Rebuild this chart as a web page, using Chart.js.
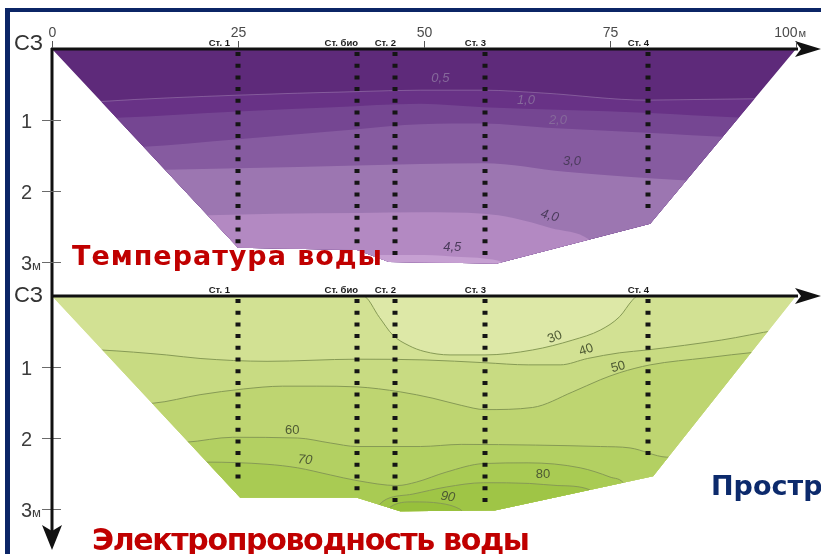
<!DOCTYPE html>
<html lang="ru">
<head>
<meta charset="utf-8">
<title>Температура и электропроводность воды</title>
<script src="https://cdn.jsdelivr.net/npm/chart.js@4.4.1/dist/chart.umd.min.js"></script>
<style>
  html, body { margin: 0; padding: 0; background: #fff; }
  body { position: relative; width: 821px; height: 554px; overflow: hidden; }
  canvas { position: absolute; left: 0; top: 0; }
  #condCanvas { z-index: 1; }
  #tempCanvas { z-index: 2; }
  .bar { position: absolute; background: #0b2566; z-index: 3; }
  .caption { position: absolute; z-index: 4; font-family: "DejaVu Sans", sans-serif; font-weight: bold; white-space: nowrap; line-height: 1; }
  #tempCaption { left: 72px; top: 242px; font-size: 27px; color: #c00000; }
  #condCaption { left: 92px; top: 525px; font-size: 30px; color: #c00000; }
  #sideCaption { left: 711px; top: 472px; font-size: 27px; color: #0c2a6c; }
</style>
</head>
<body>
<div class="bar" style="left:5px;top:8px;width:816px;height:4px"></div>
<div class="bar" style="left:5px;top:8px;width:5px;height:546px"></div>
<canvas id="condCanvas" width="821" height="554"></canvas>
<canvas id="tempCanvas" width="821" height="554"></canvas>
<div class="caption" id="tempCaption" data-w="310">Температура воды</div>
<div class="caption" id="condCaption" data-w="438">Электропроводность воды</div>
<div class="caption" id="sideCaption">Пространственное распределение</div>
<script>
// ---- Section geometry: distance along the transect (m), depth (m) ----
const distTicks = [0, 25, 50, 75, 100];
const depthTicks = [1, 2, 3];

const stationNames = ['Ст. 1', 'Ст. био', 'Ст. 2', 'Ст. 3', 'Ст. 4'];
const stationDist = [25, 41, 46.1, 58.2, 80.1];
const stationDepthTemp = [2.8, 2.8, 2.94, 2.96, 2.33];
const stationDepthCond = [2.63, 2.8, 2.94, 2.97, 2.35];

// Bottom profile [distance, depth]
const bedTemp = [[0, 0], [25, 2.8], [41, 2.83], [45.3, 3.0], [59.8, 3.02], [80.4, 2.46], [100, 0]];
const bedCond = [[0, 0], [25.3, 2.84], [41, 2.84], [46.8, 3.03], [59.5, 3.02], [80.8, 2.54], [100, 0]];

// ---- Water temperature, °C: isotherm depths [distance, depth] ----
const tempLevels = [0.5, 1.0, 2.0, 3.0, 4.0, 4.5];
const tIso05 = [[0, 0.8], [6.5, 0.74], [25, 0.65], [41, 0.6], [49.5, 0.58], [58, 0.58], [66, 0.62], [80, 0.72], [95, 0.7], [100, 0.7]];
const tIso10 = [[0, 1.0], [8.7, 0.97], [25, 0.88], [37.8, 0.82], [49.5, 0.77], [58, 0.82], [69, 0.86], [80.4, 0.9], [91.5, 0.96], [100, 0.98]];
const tIso20 = [[0, 1.42], [11.8, 1.38], [25, 1.27], [41, 1.13], [49.5, 1.06], [58, 1.05], [66.5, 1.11], [80, 1.18], [90.7, 1.24], [100, 1.26]];
const tIso30 = [[0, 1.75], [15.4, 1.7], [25, 1.68], [41, 1.64], [49.5, 1.62], [58, 1.61], [69, 1.73], [84.8, 1.85], [100, 1.9]];
const tIso40 = [[0, 2.38], [21, 2.34], [30, 2.32], [41, 2.31], [49.5, 2.3], [58, 2.32], [62, 2.38], [67, 2.52], [72.3, 2.69], [74, 2.9], [75.5, 3.1], [100, 3.1]];
const tIso45 = [[0, 3.1], [42.5, 3.1], [43.5, 2.9], [50, 2.9], [55, 2.93], [58, 2.95], [60.5, 3.0], [62, 3.1], [100, 3.1]];

// ---- Electrical conductivity, µS/cm: isoline depths [distance, depth] ----
const condLevels = [30, 40, 50, 60, 70, 80, 90];
const cIso30 = [[0, 0], [41.8, 0], [44, 0.3], [45.8, 0.55], [48, 0.7], [50, 0.78], [53.5, 0.83], [58.2, 0.83], [64.6, 0.76], [70, 0.62], [73.7, 0.48], [76.3, 0.29], [78, 0.06], [78.7, 0], [100, 0]];
const cIso40 = [[0, 0.74], [6.5, 0.76], [15.4, 0.83], [19.9, 0.88], [28.9, 0.92], [41, 0.89], [50, 0.9], [58.2, 0.94], [64, 0.97], [68.3, 0.97], [72, 0.88], [76.3, 0.8], [80, 0.76], [90, 0.62], [97.5, 0.48], [100, 0.45]];
const cIso50 = [[0, 1.55], [13.6, 1.51], [19.9, 1.39], [25.7, 1.31], [31, 1.27], [35.6, 1.27], [41, 1.28], [46.8, 1.35], [51.2, 1.44], [55, 1.54], [58.2, 1.6], [64.6, 1.57], [70, 1.35], [73.7, 1.18], [76.3, 1.08], [80.4, 0.97], [88, 0.87], [94.7, 0.79], [100, 0.75]];
const cIso60 = [[0, 2.1], [18, 2.06], [24.3, 1.99], [33, 2.0], [37.4, 2.07], [41, 2.12], [49.5, 2.12], [55, 2.09], [65, 2.1], [73.7, 2.12], [77.7, 2.14], [82.6, 2.27], [100, 2.3]];
const cIso70 = [[0, 2.35], [20.8, 2.34], [28.9, 2.37], [33, 2.42], [37.4, 2.52], [41, 2.6], [46.4, 2.67], [49, 2.62], [53, 2.48], [58, 2.36], [64, 2.35], [71, 2.42], [75, 2.55], [77, 2.66], [78.5, 3.1], [100, 3.1]];
const cIso80 = [[0, 3.1], [43, 3.1], [44, 2.94], [45, 2.86], [48.5, 2.79], [53, 2.69], [58, 2.63], [64.2, 2.64], [68, 2.67], [72.3, 2.73], [74, 3.1], [100, 3.1]];
const cIso90 = [[0, 3.1], [44.5, 3.1], [45.5, 2.97], [48.5, 2.9], [52.2, 2.92], [54.8, 3.0], [56, 3.1], [100, 3.1]];

// Where each isoline value is written [distance, depth] and its tilt (deg)
const tempLabelAt = [[52.2, 0.42], [63.7, 0.72], [68, 1.01], [69.9, 1.59], [66.9, 2.35], [53.8, 2.8]];
const tempLabelAngle = [0, 0, 0, 0, 15, 0];
const condLabelAt = [[67.6, 0.58], [71.8, 0.76], [76.1, 1.0], [32.3, 1.89], [34.0, 2.31], [66.0, 2.52], [53.2, 2.83]];
const condLabelAngle = [-22, -18, -15, 0, 5, 0, 8];

// Fill colours, from the surface layer downwards
const tempBands = ['#5e2a7a', '#683286', '#754692', '#865ba0', '#9c76b1', '#b389c2', '#c6a0d2'];
const condBands = ['#dde8a7', '#d2e193', '#c8db82', '#bed571', '#b3d062', '#a9cb53', '#9fc546', '#97c03c'];
const stationNameShift = [-8, 1, 1, 1, 1];

const PLOT_DEPTH = 3.1;   // lowest depth in each panel, m
const PX_PER_M = 71;      // vertical scale
const FONT = '"Liberation Sans", Arial, sans-serif';

const toXY = pts => pts.map(([x, y]) => ({x, y}));

// Each isoline is filled down to the plot bottom; deeper layers are painted on top.
function bandDatasets(lines, colors, strokeFor) {
  const all = [[[0, 0], [100, 0]], ...lines];
  return all.map((pts, i) => ({
    data: toXY(pts),
    backgroundColor: colors[i],
    borderColor: strokeFor(i),
    borderWidth: i === 0 ? 0 : 1,
    fill: {value: PLOT_DEPTH},
    order: all.length - i,
    pointRadius: 0,
    cubicInterpolationMode: 'monotone',
    clip: false
  }));
}

// Restricts the layered fills to the water body above the bed profile.
function bedClip(profile) {
  return {
    id: 'bedClip',
    beforeDatasetsDraw(chart) {
      const {ctx, scales: {x, y}} = chart;
      ctx.save();
      ctx.beginPath();
      profile.forEach(([m, d], i) => {
        const px = x.getPixelForValue(m), py = y.getPixelForValue(d);
        if (i) ctx.lineTo(px, py); else ctx.moveTo(px, py);
      });
      ctx.closePath();
      ctx.clip();
    },
    afterDatasetsDraw(chart) { chart.ctx.restore(); }
  };
}

// Axes, station verticals and isoline values.
function sectionDecor(o) {
  return {
    id: 'sectionDecor',
    afterDraw(chart) {
      const {ctx, scales: {x, y}} = chart;
      const x0 = x.getPixelForValue(0), x1 = x.getPixelForValue(100), y0 = y.getPixelForValue(0);
      ctx.save();

      // sampling stations
      ctx.strokeStyle = '#151515';
      ctx.lineWidth = 5;
      ctx.setLineDash([4, 7.7]);
      stationDist.forEach((m, i) => {
        const px = Math.round(x.getPixelForValue(m));
        ctx.beginPath();
        ctx.moveTo(px, y0 + 3);
        ctx.lineTo(px, y.getPixelForValue(o.stationDepth[i]));
        ctx.stroke();
      });
      ctx.setLineDash([]);
      ctx.fillStyle = '#1a1a1a';
      ctx.font = 'bold 9.5px ' + FONT;
      ctx.textAlign = 'right';
      ctx.textBaseline = 'alphabetic';
      stationNames.forEach((s, i) => {
        ctx.fillText(s, x.getPixelForValue(stationDist[i]) + stationNameShift[i], y0 - 3);
      });

      // isoline values
      o.levels.forEach((v, i) => {
        const [m, d] = o.labelAt[i];
        ctx.save();
        ctx.translate(x.getPixelForValue(m), y.getPixelForValue(d));
        ctx.rotate(o.labelAngle[i] * Math.PI / 180);
        ctx.font = (o.italic(v) ? 'italic ' : '') + '13px ' + FONT;
        ctx.fillStyle = o.labelColor(d);
        ctx.textAlign = 'center';
        ctx.textBaseline = 'middle';
        ctx.fillText(o.labelText(v), 0, 0);
        ctx.restore();
      });

      // distance axis with arrow
      ctx.strokeStyle = '#111';
      ctx.fillStyle = '#111';
      ctx.lineWidth = 3;
      ctx.beginPath();
      ctx.moveTo(x0 - 1, y0);
      ctx.lineTo(x1 + 2, y0);
      ctx.stroke();
      ctx.beginPath();
      ctx.moveTo(x1 + 25, y0);
      ctx.lineTo(x1 - 1, y0 - 8);
      ctx.lineTo(x1 + 5, y0);
      ctx.lineTo(x1 - 1, y0 + 8);
      ctx.closePath();
      ctx.fill();

      if (o.axisEnd) {
        // depth axis runs through both panels
        const yEnd = o.axisEnd();
        ctx.beginPath();
        ctx.moveTo(x0, y0 - 1);
        ctx.lineTo(x0, yEnd - 18);
        ctx.stroke();
        ctx.beginPath();
        ctx.moveTo(x0, yEnd);
        ctx.lineTo(x0 - 10, yEnd - 25);
        ctx.lineTo(x0, yEnd - 19);
        ctx.lineTo(x0 + 10, yEnd - 25);
        ctx.closePath();
        ctx.fill();
      }

      // depth ticks
      ctx.strokeStyle = '#6a6a6a';
      ctx.lineWidth = 1;
      ctx.fillStyle = '#3d3d3d';
      depthTicks.forEach((d, i) => {
        const py = Math.round(y.getPixelForValue(d)) + 0.5;
        ctx.beginPath();
        ctx.moveTo(x0 - 10, py);
        ctx.lineTo(x0 + 9, py);
        ctx.stroke();
        ctx.font = '20px ' + FONT;
        ctx.textAlign = 'right';
        ctx.textBaseline = 'alphabetic';
        ctx.fillText(String(d), 32, py + 7.5);
        if (i === depthTicks.length - 1) {
          ctx.font = '13px ' + FONT;
          ctx.textAlign = 'left';
          ctx.fillText('м', 32, py + 7.5);
        }
      });

      // compass side of the section
      ctx.fillStyle = '#333';
      ctx.font = '22px ' + FONT;
      ctx.textAlign = 'right';
      ctx.textBaseline = 'alphabetic';
      ctx.fillText('СЗ', 43, y0 + o.sideShift);

      if (o.distLabels) {
        ctx.strokeStyle = '#555';
        ctx.fillStyle = '#4a4a4a';
        distTicks.forEach((m, i) => {
          const px = Math.round(x.getPixelForValue(m)) + 0.5;
          ctx.beginPath();
          ctx.moveTo(px, y0 - 8);
          ctx.lineTo(px, y0 - 1);
          ctx.stroke();
          ctx.font = '14px ' + FONT;
          if (i === distTicks.length - 1) {
            ctx.textAlign = 'right';
            ctx.fillText(String(m), px + 1, y0 - 12);
            ctx.font = '11px ' + FONT;
            ctx.textAlign = 'left';
            ctx.fillText('м', px + 2, y0 - 12);
          } else {
            ctx.textAlign = 'center';
            ctx.fillText(String(m), px, y0 - 12);
          }
        });
      }
      ctx.restore();
    }
  };
}

function sectionChart(canvasId, top, datasets, plugins) {
  return new Chart(document.getElementById(canvasId), {
    type: 'line',
    data: {datasets},
    options: {
      responsive: false,
      animation: false,
      devicePixelRatio: 1,
      events: [],
      layout: {padding: {left: 52, right: 25, top: top, bottom: 554 - top - PLOT_DEPTH * PX_PER_M}},
      scales: {
        x: {type: 'linear', min: 0, max: 100, display: false},
        y: {type: 'linear', min: 0, max: PLOT_DEPTH, reverse: true, display: false}
      },
      plugins: {legend: {display: false}, tooltip: {enabled: false}}
    },
    plugins
  });
}

// Conductivity panel (lower)
const condChart = sectionChart('condCanvas', 296,
  bandDatasets([cIso30, cIso40, cIso50, cIso60, cIso70, cIso80, cIso90], condBands, i => i === 0 ? 'rgba(0,0,0,0)' : '#869a55'),
  [bedClip(bedCond), sectionDecor({
    stationDepth: stationDepthCond,
    levels: condLevels,
    labelAt: condLabelAt,
    labelAngle: condLabelAngle,
    labelText: v => String(v),
    labelColor: () => '#4e5a34',
    italic: v => v === 70 || v === 90,
    sideShift: 6,
    distLabels: false
  })]);

// Temperature panel (upper)
const tempChart = sectionChart('tempCanvas', 49,
  bandDatasets([tIso05, tIso10, tIso20, tIso30, tIso40, tIso45], tempBands, i => i === 1 ? 'rgba(255,255,255,0.22)' : 'rgba(0,0,0,0)'),
  [bedClip(bedTemp), sectionDecor({
    stationDepth: stationDepthTemp,
    levels: tempLevels,
    labelAt: tempLabelAt,
    labelAngle: tempLabelAngle,
    labelText: v => v.toFixed(1).replace('.', ','),
    labelColor: d => d < 1.2 ? '#86699b' : '#4b3b5c',
    italic: () => true,
    sideShift: 1,
    distLabels: true,
    axisEnd: () => condChart.scales.y.getPixelForValue(3) + 41
  })]);

// Stretch the panel captions to their widths
document.querySelectorAll('.caption[data-w]').forEach(el => {
  const target = +el.dataset.w;
  const n = el.textContent.length;
  const w = el.getBoundingClientRect().width;
  el.style.letterSpacing = ((target - w) / (n - 1)) + 'px';
});
</script>
</body>
</html>
